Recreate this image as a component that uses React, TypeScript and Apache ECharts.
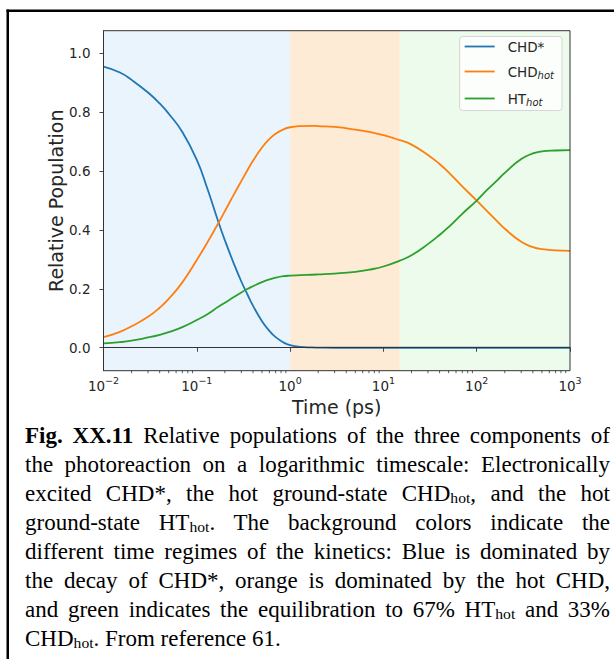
import React, { useEffect, useRef } from 'react';
import * as echarts from 'echarts';

// ---------- data ----------
const TIME_PS = [0.01, 0.015, 0.02, 0.03, 0.04, 0.05, 0.07, 0.1, 0.13, 0.17, 0.2, 0.25, 0.3, 0.35, 0.4, 0.5, 0.6, 0.7, 0.85, 1, 1.3, 1.7, 2, 3, 5, 7, 10, 15, 20, 30, 40, 50, 70, 100, 130, 170, 200, 300, 400, 500, 700, 1000];
const CHD_STAR = [0.955, 0.935, 0.91, 0.867, 0.83, 0.795, 0.733, 0.638, 0.54, 0.428, 0.365, 0.285, 0.225, 0.18, 0.143, 0.09, 0.057, 0.036, 0.018, 0.009, 0.003, 0.001, 0.0005, 0, 0, 0, 0, 0, 0, 0, 0, 0, 0, 0, 0, 0, 0, 0, 0, 0, 0, 0];
const CHD_HOT = [0.036, 0.054, 0.073, 0.105, 0.136, 0.166, 0.222, 0.298, 0.358, 0.423, 0.464, 0.521, 0.566, 0.604, 0.635, 0.68, 0.709, 0.727, 0.742, 0.749, 0.753, 0.754, 0.753, 0.75, 0.741, 0.733, 0.722, 0.705, 0.69, 0.655, 0.624, 0.596, 0.548, 0.5, 0.463, 0.426, 0.404, 0.36, 0.342, 0.335, 0.331, 0.329];
const HT_HOT = [0.015, 0.019, 0.024, 0.035, 0.044, 0.053, 0.07, 0.094, 0.114, 0.139, 0.153, 0.172, 0.188, 0.2, 0.209, 0.223, 0.232, 0.238, 0.243, 0.245, 0.247, 0.248, 0.249, 0.252, 0.258, 0.265, 0.276, 0.296, 0.314, 0.352, 0.383, 0.41, 0.455, 0.5, 0.537, 0.572, 0.594, 0.641, 0.66, 0.667, 0.67, 0.671];
const SERIES_NAMES = ['CHD*', 'CHD_hot', 'HT_hot'];
const SERIES_COLORS = ['#1f77b4', '#ff7f0e', '#2ca02c'];
const MINOR_TICKS = [0.02, 0.03, 0.04, 0.05, 0.06, 0.07, 0.08, 0.09, 0.2, 0.3, 0.4, 0.5, 0.6, 0.7, 0.8, 0.9, 2, 3, 4, 5, 6, 7, 8, 9, 20, 30, 40, 50, 60, 70, 80, 90, 200, 300, 400, 500, 600, 700, 800, 900];
const REGIME_FROM = [0.01, 1, 15];
const REGIME_TO = [1, 15, 1000];
const REGIME_COLORS = ['#eaf4fc', '#fdebd6', '#ecfbec'];
const X_MIN = 0.01;
const X_MAX = 1000;
const Y_MIN = -0.078;
const Y_MAX = 1.077;
const CAPTION_LINES = [
  '**Fig. XX.11** Relative populations of the three components of',
  'the photoreaction on a logarithmic timescale: Electronically',
  'excited CHD*, the hot ground-state CHD_{hot}, and the hot',
  'ground-state HT_{hot}. The background colors indicate the',
  'different time regimes of the kinetics: Blue is dominated by',
  'the decay of CHD*, orange is dominated by the hot CHD,',
  'and green indicates the equilibration to 67% HT_{hot} and 33%',
  'CHD_{hot}. From reference 61.',
];

const FONT = 'DejaVu Sans';
const TXT = '#262626';

function renderCaptionLine(line: string) {
  const parts: React.ReactNode[] = [];
  const re = /\*\*(.+?)\*\*|_\{(.+?)\}/g;
  let last = 0;
  let m: RegExpExecArray | null;
  let k = 0;
  while ((m = re.exec(line))) {
    if (m.index > last) parts.push(line.slice(last, m.index));
    if (m[1] !== undefined) parts.push(<b key={k++}>{m[1]}</b>);
    else parts.push(<span key={k++} style={{ fontSize: '0.68em', verticalAlign: '-0.12em' }}>{m[2]}</span>);
    last = m.index + m[0].length;
  }
  if (last < line.length) parts.push(line.slice(last));
  return parts;
}

export default function App() {
  const ref = useRef<HTMLDivElement>(null);
  useEffect(() => {
    if (!ref.current) return;
    const chart = echarts.init(ref.current, null, { renderer: 'svg' });
    const seriesData = [CHD_STAR, CHD_HOT, HT_HOT];
    const lines = SERIES_NAMES.map((name, i) => ({
      name,
      type: 'line',
      data: TIME_PS.map((t, j) => [t, seriesData[i][j]]),
      symbol: 'none',
      showSymbol: false,
      smooth: 0.5,
      lineStyle: { color: SERIES_COLORS[i], width: 1.8 },
      itemStyle: { color: SERIES_COLORS[i] },
      z: 3,
      ...(i === 0
        ? {
            markArea: {
              silent: true,
              data: REGIME_FROM.map((f, r) => [
                { xAxis: f, itemStyle: { color: REGIME_COLORS[r] } },
                { xAxis: REGIME_TO[r] },
              ]),
            },
          }
        : {}),
    }));
    const option: any = {
      animation: false,
      grid: {
        left: 103.5,
        right: 44,
        top: 30.7,
        bottom: 288.3,
        containLabel: false,
        show: true,
        borderColor: '#333',
        borderWidth: 1,
        backgroundColor: 'transparent',
        z: 10,
      },
      legend: {
        data: SERIES_NAMES,
        orient: 'vertical',
        right: 52,
        top: 36.5,
        padding: [3, 8, 3, 5],
        backgroundColor: 'rgba(255,255,255,0.8)',
        borderColor: '#d6d6d6',
        borderWidth: 1,
        borderRadius: 3,
        icon: 'rect',
        itemWidth: 30,
        itemHeight: 1.8,
        itemGap: 9,
        z: 12,
        formatter: (name: string) =>
          name === 'CHD*' ? '{m|CHD*}' : name === 'CHD_hot' ? '{m|CHD}{s|hot}' : '{m|HT}{s|hot}',
        textStyle: {
          padding: [0, 0, 0, 8],
          rich: {
            m: { fontFamily: FONT, fontSize: 13.5, color: TXT, lineHeight: 18 },
            s: { fontFamily: FONT, fontSize: 10, fontStyle: 'italic', color: TXT, lineHeight: 10, padding: [8, 0, 0, 0] },
          },
        },
      },
      xAxis: {
        type: 'log',
        logBase: 10,
        min: X_MIN,
        max: X_MAX,
        z: 10,
        name: 'Time (ps)',
        nameLocation: 'middle',
        nameGap: 27,
        nameTextStyle: { fontFamily: FONT, fontSize: 19, color: TXT },
        axisLine: { show: true, lineStyle: { color: '#333', width: 1 } },
        axisTick: { show: true, inside: false, length: 4, lineStyle: { color: '#333', width: 0.9 } },
        splitLine: { show: false },
        axisLabel: {
          margin: 5,
          fontFamily: FONT,
          color: TXT,
          formatter: (v: number) => {
            const e = Math.round(Math.log10(v));
            return '{b|10}{sup|' + (e < 0 ? '\u2212' + -e : String(e)) + '}';
          },
          rich: {
            b: { fontFamily: FONT, fontSize: 13.5, color: TXT, lineHeight: 15 },
            sup: { fontFamily: FONT, fontSize: 9.5, color: TXT, padding: [0, 0, 10, 0] },
          },
        },
      },
      yAxis: {
        type: 'value',
        min: Y_MIN,
        max: Y_MAX,
        z: 10,
        name: 'Relative Population',
        nameLocation: 'middle',
        nameGap: 38,
        nameMoveOverlap: false,
        nameRotate: 90,
        nameTextStyle: { fontFamily: FONT, fontSize: 19, color: TXT },
        axisLine: { show: true, lineStyle: { color: '#333', width: 1 } },
        axisTick: { show: true, inside: false, length: 4, lineStyle: { color: '#333', width: 0.9 } },
        splitLine: { show: false },
        axisLabel: {
          margin: 13,
          fontFamily: FONT,
          fontSize: 13.5,
          color: TXT,
          showMinLabel: false,
          showMaxLabel: false,
          formatter: (v: number) => {
            const r = Math.round(v / 0.2) * 0.2;
            return Math.abs(r - v) < 1e-6 ? r.toFixed(1) : '';
          },
        },
      },
      graphic: [
        { type: 'rect', shape: { x: 6.5, y: 9.5, width: 620, height: 2.5 }, style: { fill: '#000' }, silent: true },
        { type: 'rect', shape: { x: 6.5, y: 9.5, width: 2.5, height: 660 }, style: { fill: '#000' }, silent: true },
      ],
      series: [
        ...lines,
        {
          type: 'custom',
          silent: true,
          clip: false,
          z: 10,
          data: MINOR_TICKS.map((v) => [v, Y_MIN]),
          encode: { x: 0, y: 1 },
          renderItem: (params: any, api: any) => {
            const p = api.coord([api.value(0), Y_MIN]);
            return {
              type: 'line',
              shape: { x1: p[0], y1: p[1], x2: p[0], y2: p[1] + 2.5 },
              style: { stroke: '#333', lineWidth: 0.8 },
            };
          },
        },
      ],
    };
    chart.setOption(option);
    return () => chart.dispose();
  }, []);

  return (
    <div style={{ position: 'absolute', left: 0, top: 0, width: 614, height: 659, background: '#fff', overflow: 'hidden' }}>
      <div ref={ref} style={{ position: 'absolute', left: 0, top: 0, width: 614, height: 659 }} />
      <div
        style={{
          position: 'absolute',
          left: 25,
          top: 420.5,
          width: 585,
          fontFamily: '"Liberation Serif", "Times New Roman", serif',
          fontSize: 23,
          color: '#000',
        }}
      >
        {CAPTION_LINES.map((l, i) => (
          <div
            key={i}
            style={{
              height: 29,
              lineHeight: '29px',
              textAlign: i === CAPTION_LINES.length - 1 ? 'left' : 'justify',
              textAlignLast: i === CAPTION_LINES.length - 1 ? 'left' : 'justify',
              whiteSpace: 'nowrap',
            }}
          >
            {renderCaptionLine(l)}
          </div>
        ))}
      </div>
    </div>
  );
}
